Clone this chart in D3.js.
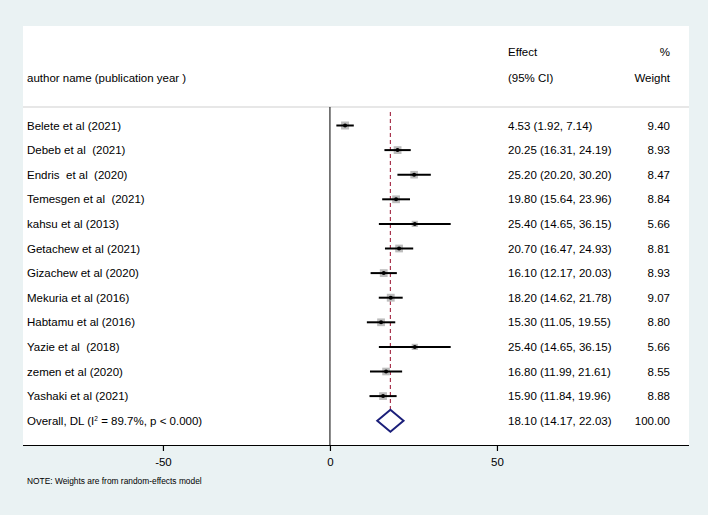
<!DOCTYPE html>
<html>
<head>
<meta charset="utf-8">
<script src="https://cdn.jsdelivr.net/npm/d3@7"></script>
<style>
  html, body { margin: 0; padding: 0; background: #eaf2f3; }
  svg { display: block; font-family: "Liberation Sans", Arial, sans-serif; }
  svg text { white-space: pre; }
</style>
</head>
<body>
<svg id="chart" width="708" height="515"></svg>
<script>
// Forest plot — random-effects (DerSimonian-Laird) pooled estimate.
const studies = [
  "Belete et al (2021)", "Debeb et al  (2021)", "Endris  et al  (2020)",
  "Temesgen et al  (2021)", "kahsu et al (2013)", "Getachew et al (2021)",
  "Gizachew et al (2020)", "Mekuria et al (2016)", "Habtamu et al (2016)",
  "Yazie et al  (2018)", "zemen et al (2020)", "Yashaki et al (2021)"
];
const effects = [4.53, 20.25, 25.20, 19.80, 25.40, 20.70, 16.10, 18.20, 15.30, 25.40, 16.80, 15.90];
const lower   = [1.92, 16.31, 20.20, 15.64, 14.65, 16.47, 12.17, 14.62, 11.05, 14.65, 11.99, 11.84];
const upper   = [7.14, 24.19, 30.20, 23.96, 36.15, 24.93, 20.03, 21.78, 19.55, 36.15, 21.61, 19.96];
const weights = [9.40, 8.93, 8.47, 8.84, 5.66, 8.81, 8.93, 9.07, 8.80, 5.66, 8.55, 8.88];

const overall = { effect: 18.10, lower: 14.17, upper: 22.03, weight: 100.00 };
const ticks = [-50, 0, 50];

const svg = d3.select("#chart");
const fs = 11.5;

// plot region (white panel)
const L = 23, R = 689, T = 26, B = 445;
svg.append("rect").attr("x", L).attr("y", T).attr("width", R - L).attr("height", B - T)
  .attr("fill", "#fff");

const x = d3.scaleLinear().domain([-91.9, 107.5]).range([L, R]);
const rowY = d3.scaleLinear().domain([0, 1]).range([125.5, 150.1]);
const fmt = (v) => v.toFixed(2);

// header
const hdr = svg.append("g").attr("font-size", fs).attr("fill", "#000");
hdr.append("text").attr("x", 27).attr("y", 78).attr("dy", "0.35em").text("author name (publication year )");
hdr.append("text").attr("x", 508).attr("y", 52).attr("dy", "0.35em").text("Effect");
hdr.append("text").attr("x", 508).attr("y", 78).attr("dy", "0.35em").text("(95% CI)");
hdr.append("text").attr("x", 670).attr("y", 52).attr("dy", "0.35em").attr("text-anchor", "end").text("%");
hdr.append("text").attr("x", 670).attr("y", 78).attr("dy", "0.35em").attr("text-anchor", "end").text("Weight");
svg.append("line").attr("x1", L).attr("x2", R).attr("y1", 107).attr("y2", 107)
  .attr("stroke", "#cfcfcf").attr("stroke-width", 1.2);

// null line
svg.append("line").attr("x1", x(0)).attr("x2", x(0)).attr("y1", 107).attr("y2", B)
  .attr("stroke", "#000").attr("stroke-width", 1);

// pooled estimate dashed line
svg.append("line").attr("x1", x(overall.effect)).attr("x2", x(overall.effect))
  .attr("y1", 112).attr("y2", rowY(studies.length) - 11)
  .attr("stroke", "#a8344e").attr("stroke-width", 1.2).attr("stroke-dasharray", "4,3");

// study rows
const rows = svg.append("g").selectAll("g").data(studies).join("g")
  .attr("transform", (d, i) => `translate(0,${rowY(i)})`);

const side = (w) => 8 * Math.sqrt(w / 9.40);
rows.append("rect")
  .attr("x", (d, i) => x(effects[i]) - side(weights[i]) / 2)
  .attr("y", (d, i) => -side(weights[i]) / 2)
  .attr("width", (d, i) => side(weights[i]))
  .attr("height", (d, i) => side(weights[i]))
  .attr("fill", "#bdbdbd");
rows.append("line")
  .attr("x1", (d, i) => x(lower[i])).attr("x2", (d, i) => x(upper[i]))
  .attr("stroke", "#000").attr("stroke-width", 2);
rows.append("circle").attr("cx", (d, i) => x(effects[i])).attr("r", 2).attr("fill", "#000");

rows.append("text").attr("x", 27).attr("dy", "0.35em").attr("font-size", fs).text((d) => d);
rows.append("text").attr("x", 508).attr("dy", "0.35em").attr("font-size", fs)
  .text((d, i) => `${fmt(effects[i])} (${fmt(lower[i])}, ${fmt(upper[i])})`);
rows.append("text").attr("x", 670).attr("dy", "0.35em").attr("font-size", fs).attr("text-anchor", "end")
  .text((d, i) => fmt(weights[i]));

// overall row
const oy = rowY(studies.length);
const ov = svg.append("g").attr("transform", `translate(0,${oy})`);
ov.append("path")
  .attr("d", `M${x(overall.lower)},0 L${x(overall.effect)},-11 L${x(overall.upper)},0 L${x(overall.effect)},11 Z`)
  .attr("fill", "none").attr("stroke", "#1b1f7a").attr("stroke-width", 2);
const ot = ov.append("text").attr("x", 27).attr("dy", "0.35em").attr("font-size", fs);
ot.append("tspan").text("Overall, DL (I");
ot.append("tspan").attr("font-size", 6.5).attr("dy", "-4").text("2");
ot.append("tspan").attr("dy", "4").text(" = 89.7%, p < 0.000)");
ov.append("text").attr("x", 508).attr("dy", "0.35em").attr("font-size", fs)
  .text(`${fmt(overall.effect)} (${fmt(overall.lower)}, ${fmt(overall.upper)})`);
ov.append("text").attr("x", 670).attr("dy", "0.35em").attr("font-size", fs).attr("text-anchor", "end")
  .text(fmt(overall.weight));

// x axis
const axis = svg.append("g").attr("transform", `translate(0,${B})`)
  .call(d3.axisBottom(x).tickValues(ticks).tickSize(6).tickPadding(7).tickFormat(d3.format("d")));
axis.select(".domain").attr("d", `M${L},0.5H${R}`).attr("stroke", "#000").attr("stroke-width", 1.2);
axis.selectAll(".tick line").attr("stroke", "#000").attr("stroke-width", 1.2);
axis.selectAll(".tick text").attr("font-size", fs).attr("font-family", "Liberation Sans, Arial, sans-serif")
  .attr("fill", "#000").text((d) => d < 0 ? "-" + Math.abs(d) : d);

svg.append("text").attr("x", 27).attr("y", 481).attr("dy", "0.35em").attr("font-size", 8.4)
  .text("NOTE: Weights are from random-effects model");
</script>
</body>
</html>
